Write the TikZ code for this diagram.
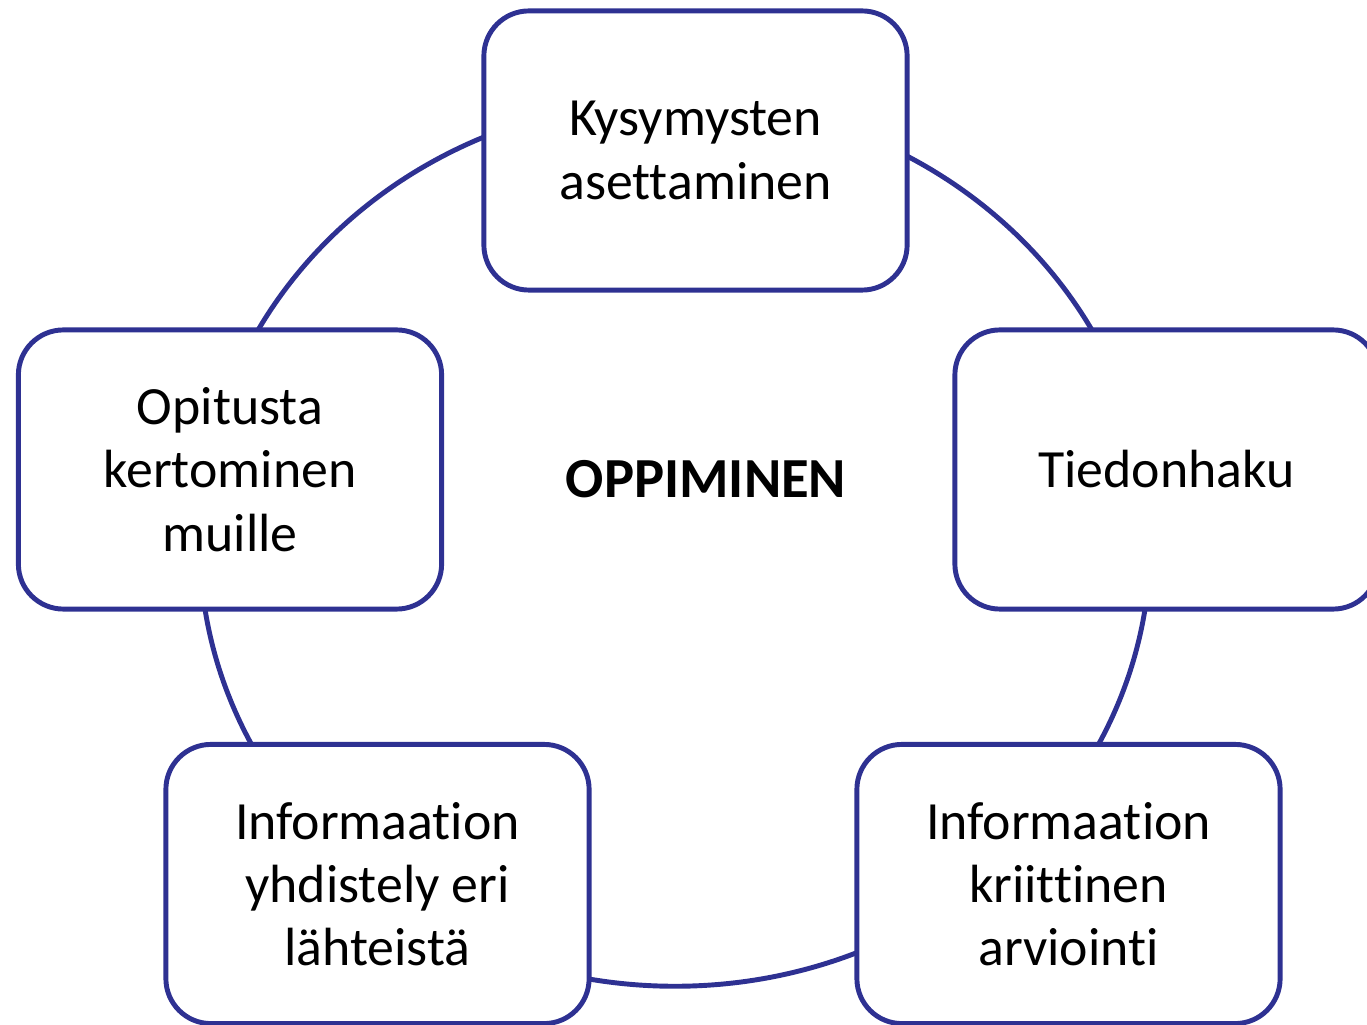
\documentclass[tikz,border=0pt]{standalone}
\usepackage{fontspec}
\setmainfont[Ligatures=NoCommon]{Carlito}
\usetikzlibrary{shapes}
\definecolor{ringblue}{RGB}{46,49,146}
\tikzset{%
  % Specifications for style of nodes:
     stepbox/.style = {rectangle, rounded corners=0.45cm, draw=ringblue,
                       line width=1.4pt, fill=white,
                       minimum width=4.23cm, minimum height=2.79cm,
                       text centered, font=\fontsize{15.3}{18}\selectfont},
  centretext/.style = {font=\fontsize{16.1}{19}\selectfont\bfseries},
        ring/.style = {draw=ringblue, line width=1.4pt},
}
\begin{document}
\begin{tikzpicture}[x=0.01cm, y=-0.01cm, align=center]
                    \useasboundingbox (0,0) rectangle (1367,1025);
                    \coordinate (middle) at (675,543);
                    \draw[ring] (middle) ellipse [x radius=4.75cm, y radius=4.43cm];

                    \node (questions)  [stepbox] at (695.5,150.5)  {Kysymysten\\asettaminen};
                    \node (search)     [stepbox] at (1166.5,469.5) {Tiedonhaku};
                    \node (critical)   [stepbox] at (1068.5,884)   {Informaation\\kriittinen\\arviointi};
                    \node (combine)    [stepbox] at (377.5,884)    {Informaation\\yhdistely eri\\lähteistä};
                    \node (telling)    [stepbox] at (230,469.5)    {Opitusta\\kertominen\\muille};
                    \node (learning)   [centretext, anchor=base] at (706,498) {OPPIMINEN};
                \end{tikzpicture}
\end{document}
